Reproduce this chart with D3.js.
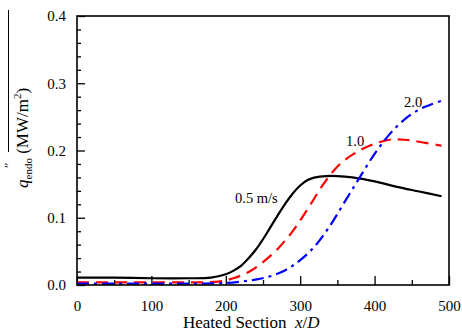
<!DOCTYPE html>
<html>
<head>
<meta charset="utf-8">
<script src="https://cdn.jsdelivr.net/npm/d3@7"></script>
<style>
  body { margin: 0; background: #fff; }
</style>
</head>
<body>
<script>
// velocity 0.5 m/s
const xBlack = [0, 50, 100, 150, 180, 200, 210, 220, 230, 240, 250, 260, 270, 280, 290, 300, 310, 320, 335, 350, 370, 400, 430, 460, 490];
const qBlack = [0.011, 0.011, 0.010, 0.010, 0.011, 0.016, 0.021, 0.028, 0.039, 0.052, 0.068, 0.086, 0.104, 0.121, 0.136, 0.148, 0.156, 0.160, 0.162, 0.162, 0.160, 0.154, 0.146, 0.139, 0.132];
// 1.0 m/s
const xRed = [0, 50, 100, 150, 190, 210, 230, 250, 270, 290, 310, 330, 345, 360, 380, 400, 420, 440, 460, 490];
const qRed = [0.004, 0.004, 0.004, 0.004, 0.005, 0.010, 0.019, 0.034, 0.054, 0.080, 0.113, 0.148, 0.170, 0.186, 0.200, 0.210, 0.216, 0.216, 0.213, 0.207];
// 2.0 m/s
const xBlue = [0, 50, 100, 150, 200, 220, 240, 260, 280, 300, 320, 340, 360, 380, 400, 420, 440, 460, 475, 490];
const qBlue = [0.002, 0.002, 0.002, 0.002, 0.003, 0.005, 0.008, 0.013, 0.022, 0.037, 0.058, 0.088, 0.124, 0.160, 0.195, 0.224, 0.246, 0.261, 0.268, 0.274];

const xTicks = [0, 100, 200, 300, 400, 500];
const yTicks = [0, 0.1, 0.2, 0.3, 0.4];

const w = 462, h = 331;
const m = { left: 77, right: 449, top: 16, bottom: 285 };
const serif = "'Liberation Serif', 'Times New Roman', serif";

const svg = d3.select("body").append("svg")
  .attr("width", w)
  .attr("height", h)
  .style("font-family", serif);

const x = d3.scaleLinear().domain([0, 500]).range([m.left, m.right]);
const y = d3.scaleLinear().domain([0, 0.4]).range([m.bottom, m.top]);

// minor ticks first
svg.append("g")
  .attr("transform", `translate(0,${m.bottom})`)
  .call(d3.axisTop(x).tickValues(d3.range(50, 500, 100)).tickSize(5).tickFormat(""))
  .call(g => g.select(".domain").remove());
svg.append("g")
  .attr("transform", `translate(${m.left},0)`)
  .call(d3.axisRight(y).tickValues(d3.range(0.02, 0.4, 0.02).filter(v => Math.abs(v * 10 - Math.round(v * 10)) > 0.01)).tickSize(4).tickFormat(""))
  .call(g => g.select(".domain").remove());

// major ticks
const xAxis = svg.append("g")
  .attr("transform", `translate(0,${m.bottom})`)
  .call(d3.axisTop(x).tickValues(xTicks).tickSize(9).tickFormat(d3.format("d")));
xAxis.select(".domain").remove();
xAxis.selectAll("text").attr("font-size", 15).attr("fill", "#000").attr("y", 26).attr("dy", 0);

const yAxis = svg.append("g")
  .attr("transform", `translate(${m.left},0)`)
  .call(d3.axisRight(y).tickValues(yTicks).tickSize(8).tickFormat(d3.format(".1f")));
yAxis.select(".domain").remove();
yAxis.selectAll("text").attr("font-size", 15).attr("fill", "#000").attr("text-anchor", "end").attr("x", -11);

svg.selectAll("g").attr("font-family", null);
svg.selectAll(".tick line").attr("stroke", "#000").attr("stroke-width", 1.3);

// curves
const line = d3.line().curve(d3.curveCatmullRom.alpha(0.5));
const series = [
  { xs: xBlack, qs: qBlack, color: "#000", dash: null },
  { xs: xRed, qs: qRed, color: "#f00", dash: "12,7" },
  { xs: xBlue, qs: qBlue, color: "#00f", dash: "12,5,3,5" }
];
series.forEach(s => {
  svg.append("path")
    .attr("d", line(s.xs.map((v, i) => [x(v), y(s.qs[i])])))
    .attr("fill", "none")
    .attr("stroke", s.color)
    .attr("stroke-width", 2.2)
    .attr("stroke-dasharray", s.dash);
});

// frame
svg.append("rect")
  .attr("x", m.left).attr("y", m.top)
  .attr("width", m.right - m.left).attr("height", m.bottom - m.top)
  .attr("fill", "none")
  .attr("stroke", "#000")
  .attr("stroke-width", 1.6);

// curve labels
const labels = [["0.5 m/s", 235, 203], ["1.0", 346, 146], ["2.0", 404, 107]];
svg.selectAll(".lbl").data(labels).enter().append("text")
  .attr("class", "lbl")
  .attr("x", d => d[1]).attr("y", d => d[2])
  .attr("font-size", 14.5)
  .text(d => d[0]);

// x title
const xt = svg.append("text")
  .attr("x", 183).attr("y", 328)
  .attr("font-size", 17);
xt.append("tspan").text("Heated Section\u00a0\u00a0");
xt.append("tspan").attr("font-style", "italic").text("x");
xt.append("tspan").text("/");
xt.append("tspan").attr("font-style", "italic").text("D");

// y title
const yt = svg.append("text")
  .attr("transform", "translate(28,188) rotate(-90)")
  .attr("font-size", 17);
yt.append("tspan").attr("font-style", "italic").text("q");
yt.append("tspan").attr("font-size", 11).attr("dy", 4).text("endo");
yt.append("tspan").attr("dy", -4).text("\u00a0(MW/m");
yt.append("tspan").attr("font-size", 11).attr("dy", -7).text("2");
yt.append("tspan").attr("dy", 7).text(")");

svg.append("text")
  .attr("transform", "translate(13,168) rotate(-90)")
  .attr("font-size", 13)
  .text("\u2033");
svg.append("line")
  .attr("x1", 8.5).attr("x2", 8.5)
  .attr("y1", 10).attr("y2", 152)
  .attr("stroke", "#000")
  .attr("stroke-width", 1);
</script>
</body>
</html>
